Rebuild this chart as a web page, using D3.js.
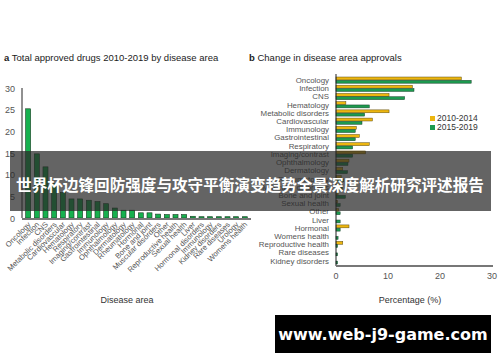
<!DOCTYPE html>
<html>
<head>
<meta charset="utf-8">
<script src="https://cdn.jsdelivr.net/npm/d3@7"></script>
<style>
  body { margin: 0; background: #fff; }
  svg { font-family: "Liberation Sans", Arial, sans-serif; }
</style>
</head>
<body>
<svg id="chart" width="500" height="362"></svg>
<script>
// panel a: total approved drugs by disease area (%)
var areasA = ["Oncology", "Infection", "CNS", "Metabolic disorders", "Cardiovascular",
    "Hematology", "Respiratory", "Imaging/contrast", "Gastrointestinal", "Immunology",
    "Ophthalmology", "Dermatology", "Rheumatology", "Hormonal", "Bone and joint",
    "Muscular disorders", "Other", "Reproductive health", "Sexual health", "Liver",
    "Hormonal disorders", "Immunology ", "Kidney disorders", "Rare diseases", "Urology",
    "Womens health"];
var totals = [25.2, 14.8, 11.8, 8, 5.9, 4.4, 4.4, 4.1, 3.8, 3.3, 2.3, 1.8, 1.8, 1.2, 1.2,
    0.9, 0.8, 0.8, 0.8, 0.4, 0.3, 0.3, 0.3, 0.3, 0.3, 0.3];
var yTicksA = [0, 5, 10, 15, 20, 25, 30];

// panel b: change in disease area approvals (%)
var areasB = ["Oncology", "Infection", "CNS", "Hematology", "Metabolic disorders",
    "Cardiovascular", "Immunology", "Gastrointestinal", "Respiratory", "Imaging/contrast",
    "Ophthalmology", "Dermatology", "Rheumatology", "Muscular disorders", "Bone and joint",
    "Sexual health", "Other", "Liver", "Hormonal", "Womens health", "Reproductive health",
    "Rare diseases", "Kidney disorders"];
var early = [24.1, 14.7, 10.2, 1.9, 10.2, 7.0, 3.9, 4.5, 6.4, 5.7, 2.5, 1.3, 1.0, 0.6, 0.4,
    0.3, 0.5, 0, 2.5, 0, 1.3, 0, 0];
var late = [26.0, 15.0, 13.2, 6.4, 5.5, 5.0, 3.7, 3.7, 3.2, 3.2, 2.3, 2.2, 1.5, 1.2, 1.8,
    0.8, 0.8, 0.8, 0.8, 0.4, 0.3, 0.3, 0.3];
var xTicksB = [0, 10, 20, 30];
var seriesNames = ["2010-2014", "2015-2019"];

var svg = d3.select("#chart");
var yellow = "#edb60f", greenB = "#1d9a4f", greenA = "#16b04e";

// ---------- panel a ----------
var xA = d3.scaleBand().domain(areasA).range([22, 251]).padding(0.42);
var yA = d3.scaleLinear().domain([0, 30]).range([218, 88]);

svg.append("text").attr("x", 4).attr("y", 61).attr("font-size", 9.5).attr("fill", "#222")
    .html('<tspan font-weight="bold">a</tspan> Total approved drugs 2010-2019 by disease area');

svg.append("g")
    .selectAll("rect")
    .data(totals)
    .enter()
    .append("rect")
    .attr("x", function (d, i) { return xA(areasA[i]); })
    .attr("y", function (d) { return yA(d); })
    .attr("width", xA.bandwidth())
    .attr("height", function (d) { return yA(0) - yA(d); })
    .attr("fill", greenA)
    .attr("stroke", "#1a3a22")
    .attr("stroke-width", 0.6);

svg.append("g").selectAll("text")
    .data(yTicksA)
    .enter()
    .append("text")
    .attr("x", 15)
    .attr("y", function (d) { return yA(d) + 3.5; })
    .attr("text-anchor", "end")
    .attr("font-size", 9)
    .attr("fill", "#555")
    .text(function (d) { return d; });

svg.append("line").attr("x1", 22).attr("x2", 22).attr("y1", yA(30)).attr("y2", yA(0))
    .attr("stroke", "#222").attr("stroke-width", 1);
svg.append("line").attr("x1", 22).attr("x2", 251).attr("y1", yA(0) + 1).attr("y2", yA(0) + 1)
    .attr("stroke", "#777").attr("stroke-width", 2);

svg.append("g").selectAll("text")
    .data(areasA)
    .enter()
    .append("text")
    .attr("transform", function (d) {
        return "translate(" + (xA(d) + xA.bandwidth() / 2 + 3) + "," + 225 + ") rotate(-45)";
    })
    .attr("text-anchor", "end")
    .attr("font-size", 7.6)
    .attr("fill", "#555")
    .text(function (d) { return d.trim(); });

svg.append("text").attr("x", 127).attr("y", 303).attr("text-anchor", "middle")
    .attr("font-size", 9).attr("fill", "#333").text("Disease area");

// ---------- panel b ----------
var yB = d3.scaleBand().domain(areasB).range([76, 265]);
var xB = d3.scaleLinear().domain([0, 30]).range([336, 492]);
var barH = 2.9;

svg.append("text").attr("x", 249).attr("y", 61).attr("font-size", 9.5).attr("fill", "#222")
    .html('<tspan font-weight="bold">b</tspan> Change in disease area approvals');

var rows = svg.append("g").selectAll("g")
    .data(areasB)
    .enter()
    .append("g")
    .attr("transform", function (d) { return "translate(0," + (yB(d) + yB.bandwidth() / 2) + ")"; });

rows.append("rect")
    .attr("x", xB(0))
    .attr("y", -barH - 0.2)
    .attr("width", function (d, i) { return xB(early[i]) - xB(0); })
    .attr("height", barH)
    .attr("fill", yellow)
    .attr("stroke", "#5a4a10")
    .attr("stroke-width", 0.5);

rows.append("rect")
    .attr("x", xB(0))
    .attr("y", 0.2)
    .attr("width", function (d, i) { return xB(late[i]) - xB(0); })
    .attr("height", barH)
    .attr("fill", greenB)
    .attr("stroke", "#17402a")
    .attr("stroke-width", 0.5);

rows.append("text")
    .attr("x", 329)
    .attr("y", 2.8)
    .attr("text-anchor", "end")
    .attr("font-size", 7.9)
    .attr("fill", "#555")
    .text(function (d) { return d; });

svg.append("line").attr("x1", 336).attr("x2", 336).attr("y1", 74).attr("y2", 266)
    .attr("stroke", "#222").attr("stroke-width", 1);
svg.append("line").attr("x1", 336).attr("x2", 493).attr("y1", 266).attr("y2", 266)
    .attr("stroke", "#777").attr("stroke-width", 2);

svg.append("g").selectAll("text")
    .data(xTicksB)
    .enter()
    .append("text")
    .attr("x", function (d) { return xB(d); })
    .attr("y", 279)
    .attr("text-anchor", "middle")
    .attr("font-size", 9)
    .attr("fill", "#555")
    .text(function (d) { return d; });

svg.append("text").attr("x", 410).attr("y", 303).attr("text-anchor", "middle")
    .attr("font-size", 9).attr("fill", "#333").text("Percentage (%)");

// legend
var legend = svg.append("g").selectAll("g")
    .data(seriesNames)
    .enter()
    .append("g")
    .attr("transform", function (d, i) { return "translate(430," + (116 + i * 9) + ")"; });
legend.append("rect").attr("width", 5).attr("height", 5)
    .attr("fill", function (d, i) { return i == 0 ? yellow : greenB; });
legend.append("text").attr("x", 7).attr("y", 5).attr("font-size", 8.5).attr("fill", "#333")
    .text(function (d) { return d; });

// ---------- overlays ----------
svg.append("rect").attr("x", 10).attr("y", 151).attr("width", 481).attr("height", 60)
    .attr("fill", "rgba(40,40,40,0.72)");
svg.append("text").attr("x", 250).attr("y", 191).attr("text-anchor", "middle")
    .attr("font-family", "'Noto Sans CJK SC', sans-serif").attr("font-weight", "bold")
    .attr("font-size", 15.6).attr("fill", "#fff")
    .text("世界杯边锋回防强度与攻守平衡演变趋势全景深度解析研究评述报告");

svg.append("rect").attr("x", 275).attr("y", 315).attr("width", 216).attr("height", 38)
    .attr("fill", "#000");
svg.append("text").attr("x", 383).attr("y", 340).attr("text-anchor", "middle")
    .attr("font-family", "'DejaVu Sans', sans-serif").attr("font-weight", "bold")
    .attr("font-size", 16).attr("fill", "#fff").text("www.web-j9-game.com");
</script>
</body>
</html>
